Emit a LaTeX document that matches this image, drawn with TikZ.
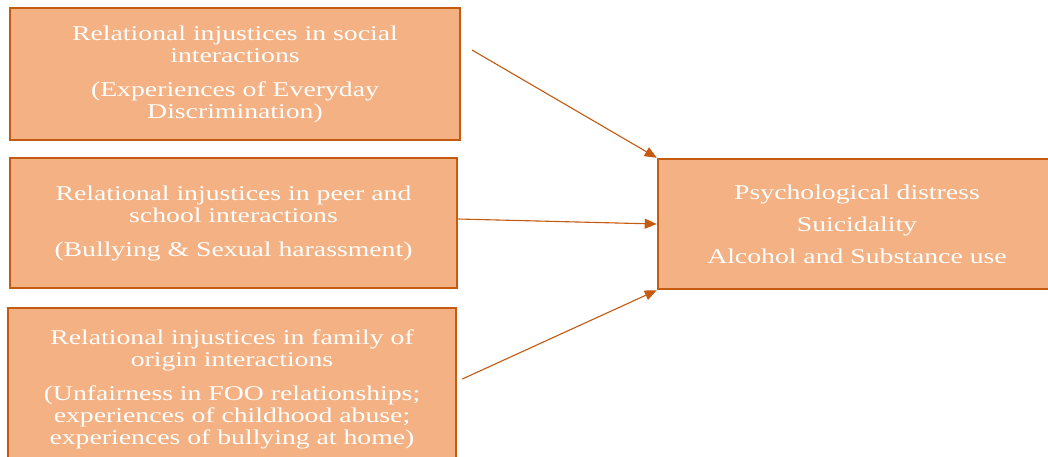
\documentclass[tikz,border=0pt]{standalone}
\usepackage{fontspec}
\setmainfont{Liberation Serif}[FakeStretch=1.32]
\usetikzlibrary{arrows.meta}
\definecolor{boxfill}{HTML}{F4B183}
\definecolor{boxline}{HTML}{C55A11}

\begin{document}
\begin{tikzpicture}[x=1pt,y=-1pt,
    box/.style={draw=boxline,fill=boxfill,line width=2.5pt,text=white,align=center,inner sep=0pt,font=\fontsize{21}{22}\selectfont},
    arr/.style={-{Triangle[length=12pt,width=10pt]},draw=boxline,fill=boxline,line width=1.1pt}]

    \useasboundingbox (0,0) rectangle (1048,456);

    \node[box,minimum width=450pt,minimum height=132pt] (social) at (235,74)
        {Relational injustices in social\\interactions\\[12pt](Experiences of Everyday\\Discrimination)};
    \node[box,minimum width=447pt,minimum height=130pt] (peer) at (233.5,223)
        {Relational injustices in peer and\\school interactions\\[12pt](Bullying \& Sexual harassment)};
    \node[box,minimum width=448pt,minimum height=162pt] (family) at (232,389)
        {Relational injustices in family of\\origin interactions\\[12pt](Unfairness in FOO relationships;\\experiences of childhood abuse;\\experiences of bullying at home)};
    \node[box,minimum width=398pt,minimum height=130pt] (outcome) at (857,224)
        {Psychological distress\\[10pt]Suicidality\\[10pt]Alcohol and Substance use};

    \coordinate (from social) at (472,50);
\draw[arr] (from social) -- (outcome.north west);
\draw[arr] ([yshift=4pt]peer.east) -- (outcome.west);
\draw[arr] ([yshift=10pt,xshift=5pt]family.east) -- (outcome.south west);
\end{tikzpicture}
\end{document}
